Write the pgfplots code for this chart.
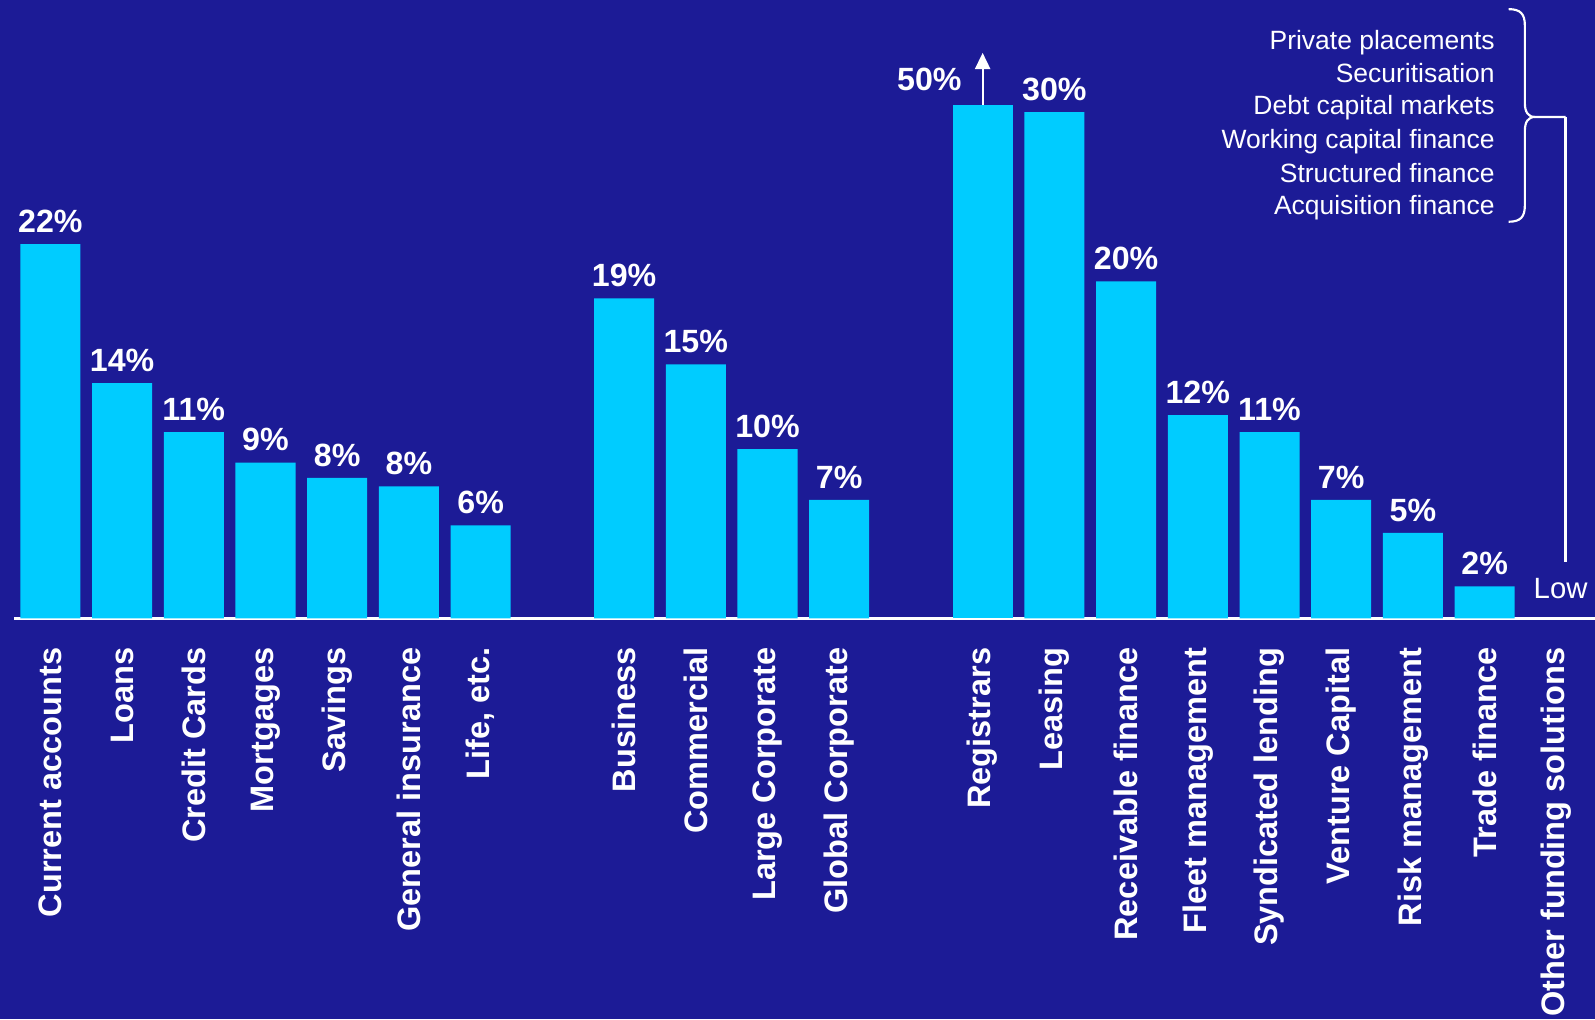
\documentclass[border=0pt]{standalone}
\usepackage{pgfplots}
\pgfplotsset{compat=1.18}
\usepackage{pgfplotstable}
\usepackage{fontspec}
\setmainfont{Liberation Sans}
\usetikzlibrary{arrows.meta}
\definecolor{bg}{RGB}{28,27,150}
\definecolor{barc}{RGB}{0,204,255}

\pgfplotstableread{
x y m
0 22.1 22
1 13.9 14
2 11.0 11
3 9.2 9
4 8.3 8
5 7.8 8
6 5.5 6
8 18.9 19
9 15.0 15
10 10.0 10
11 7.0 7
14 29.9 30
15 19.9 20
16 12.0 12
17 11.0 11
18 7.0 7
19 5.05 5
20 1.9 2
}\mainbars
\pgfplotstableread{
x y m
13 30.33 50
}\regbar

\begin{document}
\begin{tikzpicture}
\path[fill=bg, use as bounding box] (-0.495cm,-3.94cm) rectangle (15.185cm,6.08cm);
\begin{axis}[
  at={(-0.3525cm,0cm)}, anchor=south west,
  x=0.705cm, y=0.1665cm,
  xmin=-0.5, xmax=21.539, ymin=0, ymax=36.5,
  axis lines*=left,
  y axis line style={draw=none},
  x axis line style={white, line width=0.6pt},
  ytick=\empty,
  xtick={0,1,2,3,4,5,6,8,9,10,11,13,14,15,16,17,18,19,20,21},
  xticklabels={Current accounts, Loans, Credit Cards, Mortgages, Savings, General insurance, {Life, etc.}, Business, Commercial, Large Corporate, Global Corporate, Registrars, Leasing, Receivable finance, Fleet management, Syndicated lending, Venture Capital, Risk management, Trade finance, Other funding solutions},
  major tick length=0pt,
  xticklabel style={rotate=90, anchor=east, inner sep=0pt, xshift=-2.8mm, font=\fontsize{9.1}{11}\selectfont\bfseries, text=white},
  ybar, bar width=0.59cm, bar shift=0pt,
  clip=false,
  point meta=explicit symbolic,
  nodes near coords={\pgfplotspointmeta\%},
  nodes near coords style={font=\fontsize{9}{11}\selectfont\bfseries, text=white, anchor=base, inner sep=0pt, yshift=1.15mm},
]
\addplot[fill=barc, draw=none] table[x=x,y=y,meta=m]{\mainbars};
\addplot[fill=barc, draw=none, nodes near coords style={anchor=base east, xshift=-2.0mm, yshift=0.3mm}] table[x=x,y=y,meta=m]{\regbar};
\draw[white, line width=0.5pt, -{Triangle[width=1.5mm,length=1.6mm]}] (axis cs:13,30.33) -- ++(0pt,5.1mm);
\end{axis}
\begin{scope}[shift={(-0.495cm,6.08cm)}, x=0.1mm, y=-0.1mm]
  \begin{scope}[every node/.style={anchor=base east, inner sep=0pt, text=white, font=\fontsize{7.4}{9}\selectfont}]
    \node at (1470,49) {Private placements};
    \node at (1470,81.5) {Securitisation};
    \node at (1470,113) {Debt capital markets};
    \node at (1470,145.6) {Working capital finance};
    \node at (1470,179) {Structured finance};
    \node at (1470,210.5) {Acquisition finance};
  \end{scope}
  \draw[white, line width=0.6pt]
    (1483,9) .. controls (1495,9) and (1499,14) .. (1499,25) -- (1499,101)
    .. controls (1499,110) and (1502,115) .. (1509,115) -- (1539,115);
  \draw[white, line width=0.6pt]
    (1509,115) .. controls (1502,115) and (1499,120) .. (1499,129) -- (1499,202)
    .. controls (1499,213) and (1495,218) .. (1483,218);
  \draw[white, line width=0.6pt] (1539,115) -- (1539,552);
  \node[anchor=base west, inner sep=0pt, text=white, font=\fontsize{8.2}{10}\selectfont] at (1507,588) {Low};
\end{scope}
\end{tikzpicture}
\end{document}
